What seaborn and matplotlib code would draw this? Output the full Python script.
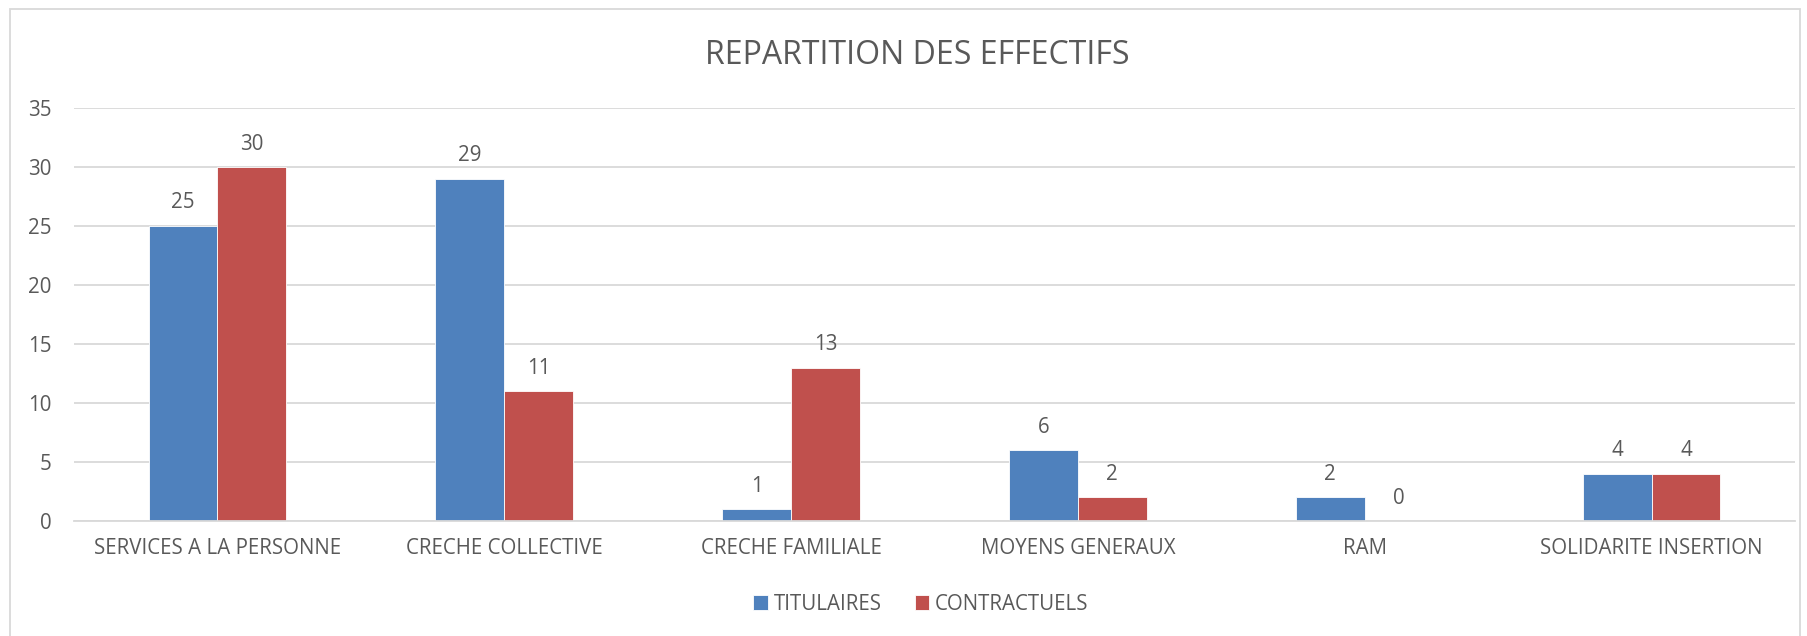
import matplotlib
matplotlib.use("Agg")
import matplotlib.pyplot as plt
import seaborn as sns
import pandas as pd
from matplotlib.patches import Rectangle

categories = ["SERVICES A LA PERSONNE", "CRECHE COLLECTIVE", "CRECHE FAMILIALE",
              "MOYENS GENERAUX", "RAM", "SOLIDARITE INSERTION"]
titulaires = [25, 29, 1, 6, 2, 4]
contractuels = [30, 11, 13, 2, 0, 4]
series_names = ["TITULAIRES", "CONTRACTUELS"]
colors = ["#4F81BD", "#C0504D"]

df = pd.DataFrame({
    "cat": categories * 2,
    "val": titulaires + contractuels,
    "serie": [series_names[0]] * len(categories) + [series_names[1]] * len(categories),
})

sns.set_theme(style="white")
plt.rcParams['font.family'] = ['Open Sans', 'DejaVu Sans']
txt = "#595959"
fs = 14.8

W, H = 1807, 636
fig = plt.figure(figsize=(W / 100, H / 100), dpi=100)
ax = fig.add_axes([74 / W, 1 - 521 / H, (1795 - 74) / W, (521 - 108) / H])

sns.barplot(data=df, x="cat", y="val", hue="serie", palette=colors, width=0.48,
            gap=0, ax=ax, saturation=1, legend=True, edgecolor="white", linewidth=0.6)

ax.set_ylim(0, 35)
ax.set_yticks(range(0, 36, 5))
ax.set_xlim(-0.5, len(categories) - 0.5)
ax.yaxis.grid(True, color="#D9D9D9", linewidth=1.3)
ax.set_axisbelow(True)
for s in ["top", "right", "left"]:
    ax.spines[s].set_visible(False)
ax.spines["bottom"].set_color("#D9D9D9")
ax.spines["bottom"].set_linewidth(1.3)
ax.tick_params(axis="both", length=0, labelsize=fs, colors=txt)
ax.tick_params(axis="x", pad=12)
ax.tick_params(axis="y", pad=16)
ax.set_xlabel("")
ax.set_ylabel("")

for cont in ax.containers:
    ax.bar_label(cont, padding=9, fontsize=fs, color=txt)

h, l = ax.get_legend_handles_labels()
ax.get_legend().remove()
fig.legend(h, l, loc="center", bbox_to_anchor=(921 / W, 1 - 604 / H), ncol=2, frameon=False,
           fontsize=fs, labelcolor=txt, handlelength=0.7, handleheight=0.7,
           columnspacing=1.6, handletextpad=0.3)

fig.text(917 / W, 1 - 55 / H, "REPARTITION DES EFFECTIFS", ha="center", va="center",
         fontsize=23, color=txt)

fig.patches.append(Rectangle((10 / W, -0.05), (1800 - 10) / W, 1 - 9 / H + 0.05,
                             transform=fig.transFigure, fill=False,
                             edgecolor="#D9D9D9", linewidth=1.3))

fig.savefig("out.png", dpi=100, facecolor="white")
